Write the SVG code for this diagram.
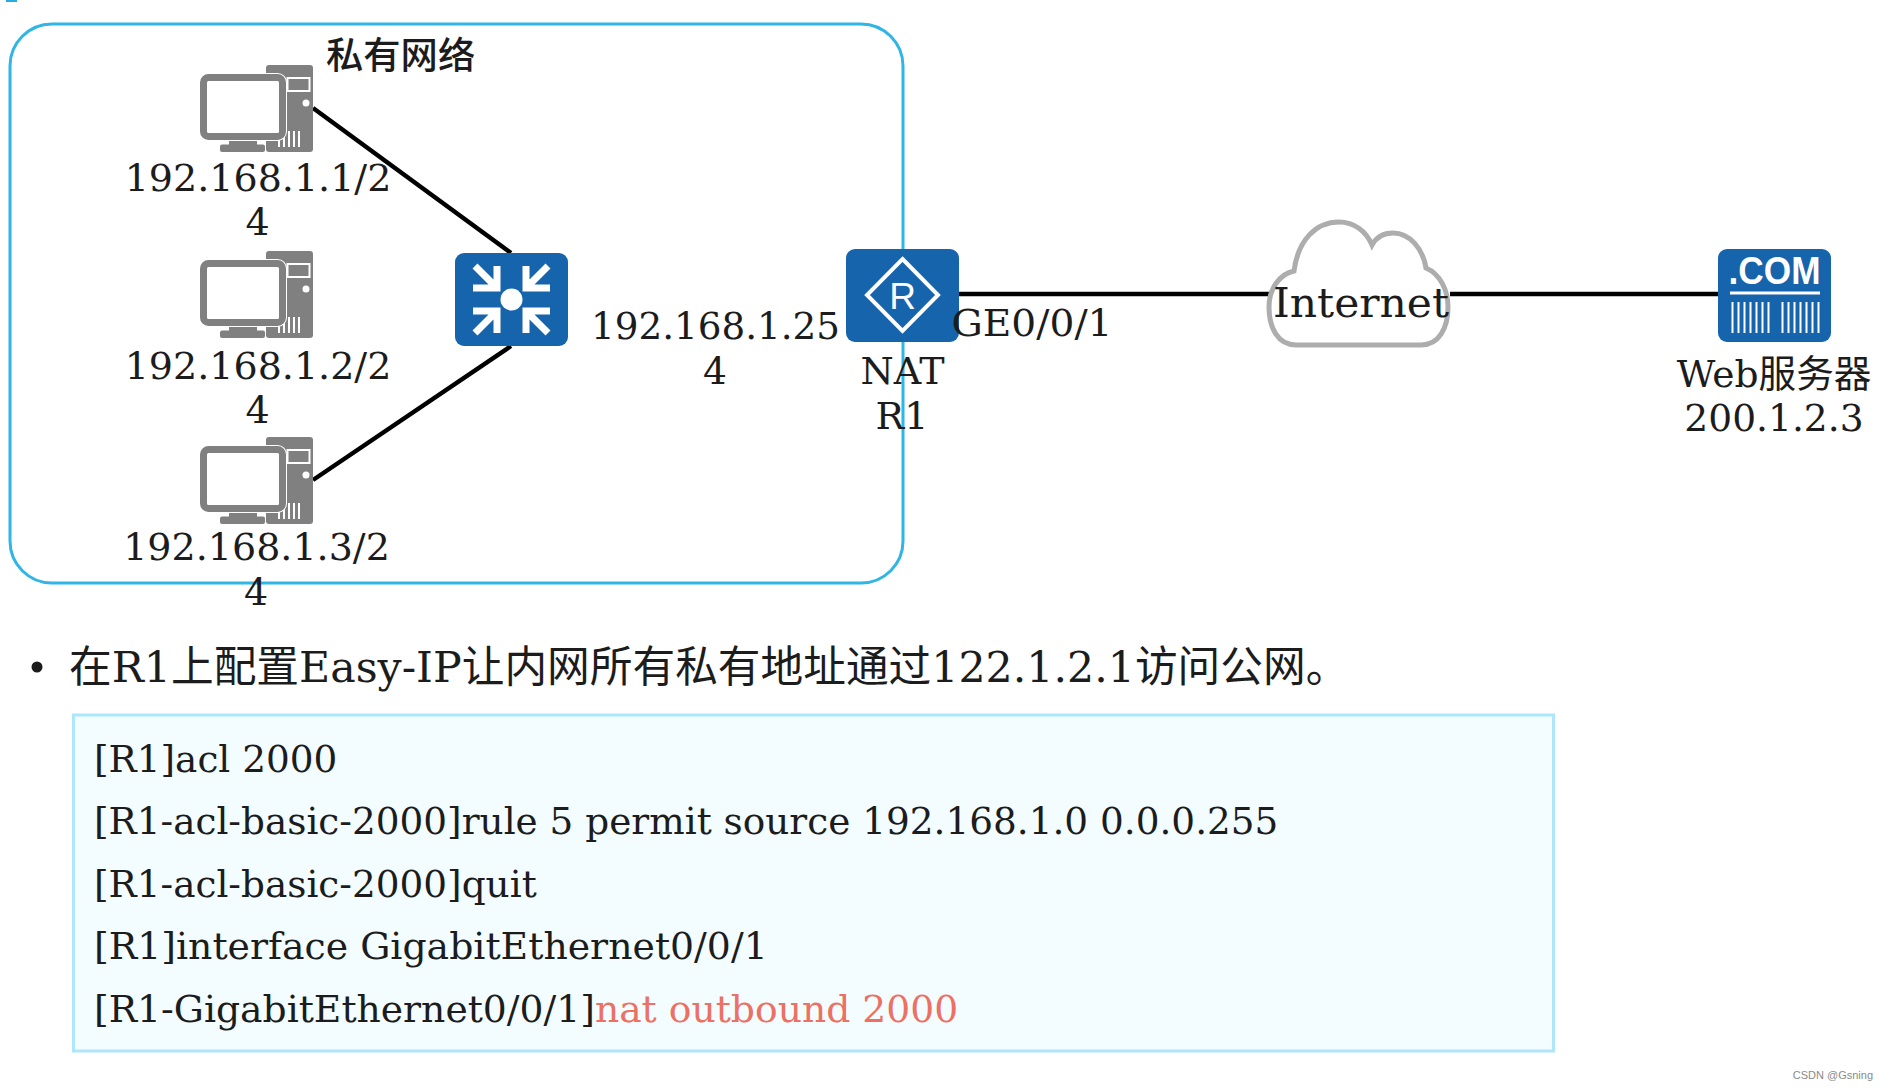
<svg xmlns="http://www.w3.org/2000/svg" xmlns:xlink="http://www.w3.org/1999/xlink" width="1887" height="1090" viewBox="0 0 1887 1090">
<style>
text{font-family:"DejaVu Serif","Noto Sans CJK SC",serif;fill:#1c1c1c}
.l{font-size:37.6px}
.p{font-size:38px}
.m{text-anchor:middle}
.c{font-size:37.4px}
.w{stroke:#000;stroke-width:4.500;fill:none}
.ic{fill:#1664ab}
</style>
<defs>
<g id="pc">
<rect x="266" y="65" width="47" height="87" rx="3" fill="#808080"/>
<rect x="287.500" y="78" width="22" height="13" fill="none" stroke="#fff" stroke-width="2"/>
<circle cx="306" cy="103" r="3.500" fill="#fff"/>
<path d="M279 131v16M284 131v16M289 131v16M294 131v16M299 131v16" stroke="#fff" stroke-width="2"/>
<rect x="229" y="138" width="28" height="8" fill="#808080"/>
<rect x="220" y="144.500" width="45" height="7.500" rx="2" fill="#808080"/>
<rect x="203.500" y="77.500" width="79" height="59" rx="5" fill="#fff" stroke="#fff" stroke-width="9"/>
<rect x="203.500" y="77.500" width="79" height="59" rx="5" fill="#fff" stroke="#808080" stroke-width="7"/>
</g>
<path id="ar" d="M497 266V288H473M497 288L475 266" fill="none" stroke="#fff" stroke-width="7"/>
</defs>
<rect x="6" y="0" width="11" height="2" fill="#29abe2"/>
<rect id="frame" x="10" y="24" width="893" height="559" rx="42" fill="#fff" stroke="#2fb6e6" stroke-width="3"/>
<g id="connectors">
<path class="w" d="M313 108L511 253"/>
<path class="w" d="M313 480L511 346"/>
<path class="w" d="M959 294H1270"/>
<path class="w" d="M1450 294H1718"/>
</g>
<g id="private-label"><text x="326" y="69" font-size="37.300" font-weight="500" style="font-family:'Noto Sans CJK SC',sans-serif">私有网络</text></g>
<g id="pc1"><use xlink:href="#pc" href="#pc"/>
<text class="p m" x="258" y="191">192.168.1.1/2</text><text class="p m" x="257.500" y="235">4</text></g>
<g id="pc2"><use xlink:href="#pc" href="#pc" y="186"/>
<text class="p m" x="258" y="379">192.168.1.2/2</text><text class="p m" x="257.500" y="423">4</text></g>
<g id="pc3"><use xlink:href="#pc" href="#pc" y="372"/>
<text class="p m" x="256.500" y="560">192.168.1.3/2</text><text class="p m" x="256" y="605">4</text></g>
<g id="switch">
<rect class="ic" x="455" y="253" width="113" height="93" rx="9"/>
<circle cx="511.500" cy="299.500" r="11" fill="#fff"/>
<use xlink:href="#ar" href="#ar"/>
<use xlink:href="#ar" href="#ar" transform="translate(1023 0) scale(-1 1)"/>
<use xlink:href="#ar" href="#ar" transform="translate(0 599) scale(1 -1)"/>
<use xlink:href="#ar" href="#ar" transform="translate(1023 599) scale(-1 -1)"/>
</g>
<g id="router">
<rect class="ic" x="846" y="249" width="113" height="93" rx="9"/>
<path d="M902.500 259L938 295L902.500 331L867 295Z" fill="none" stroke="#fff" stroke-width="4"/>
<text x="902.500" y="309" font-size="37" text-anchor="middle" style="font-family:'Liberation Sans',sans-serif;fill:#fff">R</text>
<text class="l m" x="715.500" y="339" textLength="249" lengthAdjust="spacingAndGlyphs">192.168.1.25</text><text class="l m" x="715" y="384">4</text>
<text class="l" x="951.500" y="336" textLength="161" lengthAdjust="spacingAndGlyphs">GE0/0/1</text>
<text class="p m" x="902.500" y="384">NAT</text><text class="p m" x="902" y="429">R1</text>
</g>
<g id="internet">
<path d="M1296 345C1278 345 1269 328 1269 307C1269 288 1280 274 1294 271C1298 240 1316 222 1339 222C1354 222 1366 231 1372 245C1377 236 1385 233 1393 233C1410 233 1423 249 1426 268C1440 274 1448 290 1448 307C1448 328 1439 345 1421 345Z" fill="#fff" stroke="#adadad" stroke-width="5"/>
<text x="1273" y="317" font-size="41" textLength="176" lengthAdjust="spacingAndGlyphs">Internet</text>
</g>
<g id="server">
<rect class="ic" x="1718" y="249" width="113" height="93" rx="9"/>
<text x="1774.500" y="284" font-size="38" font-weight="700" text-anchor="middle" textLength="92" lengthAdjust="spacingAndGlyphs" style="font-family:'Liberation Sans',sans-serif;fill:#fff">.COM</text>
<path d="M1730 293H1820" stroke="#fff" stroke-width="3"/>
<path d="M1732.500 302v31M1738.500 302v31M1744.500 302v31M1750.500 302v31M1756.500 302v31M1762.500 302v31M1768.500 302v31M1782.500 302v31M1788.500 302v31M1794.500 302v31M1800.500 302v31M1806.500 302v31M1812.500 302v31M1818.500 302v31" stroke="#fff" stroke-width="2"/>
<text class="l m" x="1774" y="387">Web服务器</text>
<text class="l m" x="1774" y="431">200.1.2.3</text>
</g>
<g id="bullet">
<circle cx="37" cy="667" r="5.500" fill="#1c1c1c"/>
<text x="69" y="682" font-size="42.700">在R1上配置Easy-IP让内网所有私有地址通过122.1.2.1访问公网。</text>
</g>
<g id="code">
<rect x="73.500" y="715" width="1480" height="336" fill="#f3fcff" stroke="#aee7fb" stroke-width="3"/>
<text class="c" x="94" y="771.500">[R1]acl 2000</text>
<text class="c" x="94" y="834">[R1-acl-basic-2000]rule 5 permit source 192.168.1.0 0.0.0.255</text>
<text class="c" x="94" y="897">[R1-acl-basic-2000]quit</text>
<text class="c" x="94" y="959" style="font-size:37.800px">[R1]interface GigabitEthernet0/0/1</text>
<text class="c" x="94" y="1022" style="font-size:37.700px">[R1-GigabitEthernet0/0/1]<tspan style="fill:#ec7063">nat outbound 2000</tspan></text>
</g>
<text x="1873" y="1079" font-size="11" text-anchor="end" style="font-family:'Liberation Sans',sans-serif;fill:#8a8a8a">CSDN @Gsning</text>
</svg>
